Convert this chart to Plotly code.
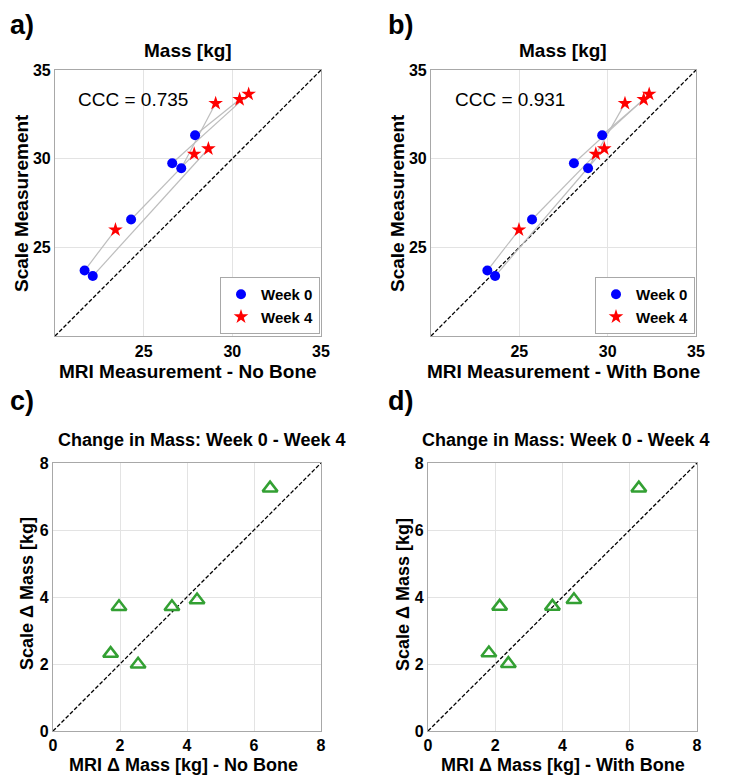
import plotly.graph_objects as go

# The page body adds an 8px margin; the figure is sized so that the page is 729x783.
OFF = 8
W, H = 729 - 2 * OFF, 783 - 2 * OFF

# ---------------- data ----------------
subjects = ["S1", "S2", "S3", "S4", "S5", "S6"]

scale_w0 = [23.69, 23.38, 26.57, 29.46, 29.74, 31.32]
scale_w4 = [25.99, 30.56, 30.26, 33.12, 33.64, 33.34]

mri_nobone_w0 = [21.67, 22.13, 24.29, 27.12, 26.61, 27.90]
mri_nobone_w4 = [23.41, 28.65, 27.85, 29.06, 30.92, 30.41]

mri_bone_w0 = [23.19, 23.63, 25.72, 28.89, 28.09, 29.69]
mri_bone_w4 = [24.98, 29.81, 29.33, 30.98, 32.35, 32.04]

delta_mri_nobone = [1.72, 6.48, 3.55, 1.97, 4.30, 2.54]
delta_scale_c = [2.31, 7.25, 3.71, 3.71, 3.91, 1.99]

delta_mri_bone = [1.81, 6.27, 3.70, 2.13, 4.34, 2.39]
delta_scale_d = [2.33, 7.25, 3.72, 3.72, 3.92, 2.01]

ccc_nobone = "0.735"
ccc_bone = "0.931"

mass_range = [20, 35]
mass_ticks = [25, 30, 35]
delta_range = [0, 8]
delta_ticks = [0, 2, 4, 6, 8]

# ---------------- helpers (screen pixel -> paper fraction) ----------------
def px(x):
    return (x - OFF) / W

def py(y):
    return 1 - (y - OFF) / H

FONT = "Liberation Sans, Arial, Helvetica, sans-serif"
BLUE = "#0000ff"
RED = "#ff0000"
GREEN = "rgb(51,160,51)"
GRID = "#e3e3e3"
BOX = "#a8a8a8"

fig = go.Figure()

def pair_lines(x0, y0, x1, y1):
    xs, ys = [], []
    for a, b, c, d in zip(x0, y0, x1, y1):
        xs += [a, c, None]
        ys += [b, d, None]
    return xs, ys

def identity(rng, xa, ya):
    fig.add_trace(go.Scatter(x=rng, y=rng, mode="lines",
                             line=dict(color="black", width=1.3, dash="4px,2px"),
                             showlegend=False, xaxis=xa, yaxis=ya, hoverinfo="skip"))

# Panel a
identity(mass_range, "x", "y")
xs, ys = pair_lines(mri_nobone_w0, scale_w0, mri_nobone_w4, scale_w4)
fig.add_trace(go.Scatter(x=xs, y=ys, mode="lines", line=dict(color="#bdbdbd", width=1.2),
                         showlegend=False, xaxis="x", yaxis="y", hoverinfo="skip"))
fig.add_trace(go.Scatter(x=mri_nobone_w0, y=scale_w0, mode="markers", name="Week 0",
                         marker=dict(symbol="circle", size=10, color=BLUE),
                         xaxis="x", yaxis="y", legend="legend"))
fig.add_trace(go.Scatter(x=mri_nobone_w4, y=scale_w4, mode="markers", name="Week 4",
                         marker=dict(symbol="star", size=11, color=RED, line=dict(width=0)),
                         xaxis="x", yaxis="y", legend="legend"))

# Panel b
identity(mass_range, "x2", "y2")
xs, ys = pair_lines(mri_bone_w0, scale_w0, mri_bone_w4, scale_w4)
fig.add_trace(go.Scatter(x=xs, y=ys, mode="lines", line=dict(color="#bdbdbd", width=1.2),
                         showlegend=False, xaxis="x2", yaxis="y2", hoverinfo="skip"))
fig.add_trace(go.Scatter(x=mri_bone_w0, y=scale_w0, mode="markers", name="Week 0",
                         marker=dict(symbol="circle", size=10, color=BLUE),
                         xaxis="x2", yaxis="y2", legend="legend2"))
fig.add_trace(go.Scatter(x=mri_bone_w4, y=scale_w4, mode="markers", name="Week 4",
                         marker=dict(symbol="star", size=11, color=RED, line=dict(width=0)),
                         xaxis="x2", yaxis="y2", legend="legend2"))

# Panel c
identity(delta_range, "x3", "y3")
fig.add_trace(go.Scatter(x=delta_mri_nobone, y=delta_scale_c, mode="markers",
                         marker=dict(symbol="triangle-up-open", size=13, color=GREEN,
                                     line=dict(width=2.5, color=GREEN)),
                         showlegend=False, xaxis="x3", yaxis="y3"))

# Panel d
identity(delta_range, "x4", "y4")
fig.add_trace(go.Scatter(x=delta_mri_bone, y=delta_scale_d, mode="markers",
                         marker=dict(symbol="triangle-up-open", size=13, color=GREEN,
                                     line=dict(width=2.5, color=GREEN)),
                         showlegend=False, xaxis="x4", yaxis="y4"))

tickfont = dict(family=FONT, size=16, color="black", weight="bold")

def axis(domain, rng, ticks, anchor, standoff):
    return dict(domain=domain, range=rng, tickvals=ticks, anchor=anchor,
                showgrid=True, gridcolor=GRID, gridwidth=1,
                showline=True, linecolor=BOX, linewidth=1.2, mirror=True,
                ticks="", zeroline=False, tickfont=tickfont, fixedrange=True,
                automargin=False, ticklabelstandoff=standoff)

xa = [px(55), px(321)]
xb = [px(431), px(696)]
xc = [px(53), px(321)]
xd = [px(428), px(697)]
ytop = [py(336), py(70)]
ybot = [py(731), py(463)]

legend_common = dict(xanchor="right", yanchor="bottom",
                     bgcolor="white", bordercolor=BOX, borderwidth=1,
                     font=dict(family=FONT, size=15, weight="bold", color="black"),
                     itemwidth=30, tracegroupgap=0)

fig.update_layout(
    width=W, height=H,
    margin=dict(l=0, r=0, t=0, b=0, autoexpand=False),
    paper_bgcolor="white", plot_bgcolor="white",
    font=dict(family=FONT, color="black"),
    xaxis=axis(xa, mass_range, mass_ticks, "y", 1),
    yaxis=axis(ytop, mass_range, mass_ticks, "x", 0),
    xaxis2=axis(xb, mass_range, mass_ticks, "y2", 1),
    yaxis2=axis(ytop, mass_range, mass_ticks, "x2", 0),
    xaxis3=axis(xc, delta_range, delta_ticks, "y3", 0),
    yaxis3=axis(ybot, delta_range, delta_ticks, "x3", 0),
    xaxis4=axis(xd, delta_range, delta_ticks, "y4", 0),
    yaxis4=axis(ybot, delta_range, delta_ticks, "x4", 0),
    legend=dict(x=px(320), y=py(334), **legend_common),
    legend2=dict(x=px(695), y=py(334), **legend_common),
)

def ann(text, x, y, size, bold=True, angle=0, xanchor="center"):
    fig.add_annotation(text=text, x=px(x), y=py(y), xref="paper", yref="paper",
                       xanchor=xanchor, yanchor="middle", showarrow=False, textangle=angle,
                       font=dict(family=FONT, size=size, color="black",
                                 weight="bold" if bold else "normal"))

# panel letters
ann("a)", 8, 25, 27, xanchor="left")
ann("b)", 386, 25, 27, xanchor="left")
ann("c)", 8, 401, 27, xanchor="left")
ann("d)", 386, 401, 27, xanchor="left")

# titles
ann("Mass [kg]", 188, 50, 19)
ann("Mass [kg]", 563, 50, 19)
ann("Change in Mass: Week 0 - Week 4", 201, 440, 18)
ann("Change in Mass: Week 0 - Week 4", 565, 440, 18)

# CCC
ann("CCC = " + ccc_nobone, 133, 99, 19, bold=False)
ann("CCC = " + ccc_bone, 510, 100, 19, bold=False)

# axis titles
ann("MRI Measurement - No Bone", 188, 371, 19)
ann("MRI Measurement - With Bone", 563, 371, 19)
ann("Scale Measurement", 21, 203, 19, angle=-90)
ann("Scale Measurement", 397, 203, 19, angle=-90)
ann("MRI \u0394 Mass [kg] - No Bone", 183, 765, 18)
ann("MRI \u0394 Mass [kg] - With Bone", 563, 765, 18)
ann("Scale \u0394 Mass [kg]", 27, 594, 18, angle=-90)
ann("Scale \u0394 Mass [kg]", 403, 594, 18, angle=-90)

fig.write_html("out.html")
